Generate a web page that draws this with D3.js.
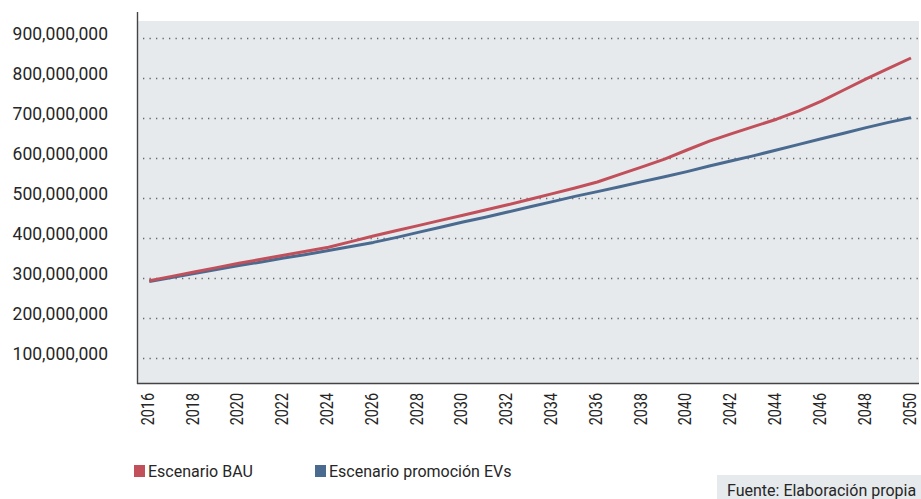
<!DOCTYPE html>
<html>
<head>
<meta charset="utf-8">
<script src="https://cdn.jsdelivr.net/npm/d3@7"></script>
<style>
  html, body { margin: 0; padding: 0; background: #fff; }
  svg { display: block; }
  text { font-family: Roboto, "DejaVu Sans", sans-serif; fill: #262626; }
</style>
</head>
<body>
<svg id="chart" width="921" height="499"></svg>
<script>
const years = d3.range(2016, 2051);
const bauValues = [293, 304, 315, 326, 337, 347, 357, 367, 377, 391, 405, 418, 431, 444, 457, 470, 483, 497, 511, 525, 540, 559, 578, 597, 620, 642, 661, 679, 697, 718, 742, 770, 798, 824, 850].map(v => v * 1e6);
const evValues = [291, 301, 311, 321, 331, 340, 350, 359, 369, 379, 389, 401, 414, 427, 440, 452, 465, 478, 491, 504, 516, 528, 541, 553, 566, 580, 593, 606, 620, 634, 648, 662, 676, 689, 701].map(v => v * 1e6);
const yTicks = [100e6, 200e6, 300e6, 400e6, 500e6, 600e6, 700e6, 800e6, 900e6];
const xTickYears = d3.range(2016, 2051, 2);
const seriesNames = ["Escenario BAU", "Escenario promoción EVs"];
const sourceText = "Fuente: Elaboración propia";

const colors = ["#c1505b", "#4a6a90"];

const svg = d3.select("#chart");
const plotLeft = 138, plotRight = 919, plotTop = 21, plotBottom = 383;

const x = d3.scaleLinear().domain([2016, 2050]).range([149.3, 911]);
const y = d3.scaleLinear().domain([37.5e6, 942.5e6]).range([plotBottom, plotTop]);

// background
svg.append("rect")
  .attr("x", plotLeft).attr("y", plotTop)
  .attr("width", plotRight - plotLeft).attr("height", plotBottom - plotTop)
  .attr("fill", "#e6eaed");

// gridlines
svg.append("g").selectAll("line").data(yTicks).join("line")
  .attr("x1", 143).attr("x2", plotRight)
  .attr("y1", d => Math.round(y(d)) + 0.5).attr("y2", d => Math.round(y(d)) + 0.5)
  .attr("stroke", "#666")
  .attr("stroke-width", 1.3)
  .attr("stroke-dasharray", "1.3,5.2");

// y labels
const fmt = d3.format(",");
svg.append("g").selectAll("text").data(yTicks).join("text")
  .attr("x", 108).attr("y", d => y(d) + 2)
  .attr("text-anchor", "end")
  .style("font-size", "17.5px")
  .text(d => fmt(d));

// x labels
svg.append("g").selectAll("text").data(xTickYears).join("text")
  .attr("transform", d => `translate(${x(d) + 4.5},393) rotate(-90) scale(0.8,1)`)
  .attr("text-anchor", "end")
  .style("font-size", "18px")
  .text(d => d);

// lines
const line = d3.line().x((d, i) => x(years[i])).y(d => y(d)).curve(d3.curveLinear);
[evValues, bauValues].forEach((vals, k) => {
  const idx = 1 - k;
  svg.append("path")
    .datum(vals)
    .attr("d", line)
    .attr("fill", "none")
    .attr("stroke", colors[idx])
    .attr("stroke-width", 3)
    .attr("stroke-linejoin", "round");
});

// axes lines
svg.append("line").attr("x1", 137.5).attr("x2", 137.5).attr("y1", 12).attr("y2", plotBottom + 1)
  .attr("stroke", "#444").attr("stroke-width", 1.4);
svg.append("line").attr("x1", 137).attr("x2", plotRight).attr("y1", plotBottom + 0.5).attr("y2", plotBottom + 0.5)
  .attr("stroke", "#444").attr("stroke-width", 1.4);

// legend
const legendX = [134, 315];
seriesNames.forEach((name, i) => {
  svg.append("rect").attr("x", legendX[i]).attr("y", 465).attr("width", 11).attr("height", 12).attr("fill", colors[i]);
  svg.append("text").attr("x", legendX[i] + 14).attr("y", 477).style("font-size", "16px").text(name);
});

// source box
svg.append("rect").attr("x", 717).attr("y", 475).attr("width", 204).attr("height", 24).attr("fill", "#e6eaed");
svg.append("text").attr("x", 727).attr("y", 496).style("font-size", "16px").text(sourceText);
</script>
</body>
</html>
